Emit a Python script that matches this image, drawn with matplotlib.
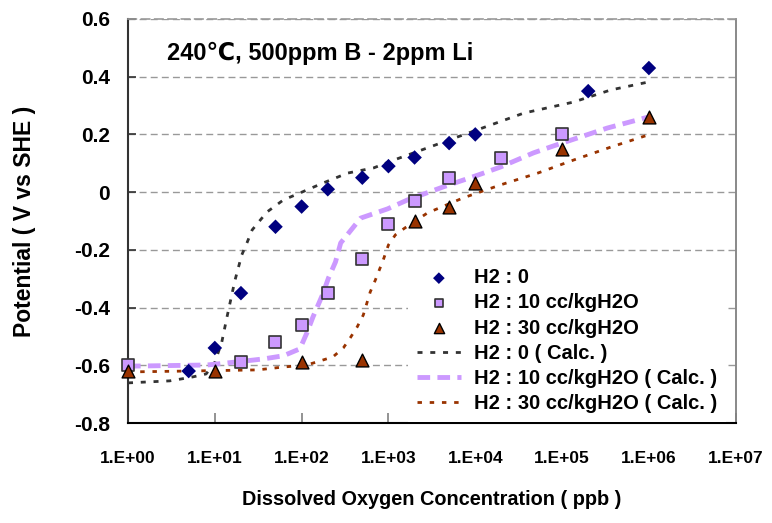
import numpy as np
import matplotlib
matplotlib.use("Agg")
import matplotlib.pyplot as plt

plt.rcParams['font.family'] = ['Liberation Sans', 'DejaVu Sans']
plt.rcParams['font.weight'] = 'bold'

# Measured data
x_h0 = [5, 10, 20, 50, 100, 200, 500, 1000, 2000, 5000, 1e4, 2e5, 1e6]
y_h0 = [-0.62, -0.54, -0.35, -0.12, -0.05, 0.01, 0.05, 0.09, 0.12, 0.17, 0.20, 0.35, 0.43]

x_h10 = [1, 20, 50, 100, 200, 500, 1000, 2000, 5000, 2e4, 1e5]
y_h10 = [-0.60, -0.59, -0.52, -0.46, -0.35, -0.23, -0.11, -0.03, 0.05, 0.12, 0.20]

x_h30 = [1, 10, 100, 500, 2000, 5000, 1e4, 1e5, 1e6]
y_h30 = [-0.62, -0.62, -0.59, -0.58, -0.10, -0.05, 0.03, 0.15, 0.26]

# Calculated curves (log10 of concentration, potential)
calc_h0_logx = [0.0, 0.48, 0.62, 0.75, 0.9, 1.0, 1.08, 1.14, 1.23, 1.27, 1.31, 1.37, 1.43,
                1.60, 1.79, 1.98, 2.25, 2.53, 2.83, 3.06, 3.29, 3.83, 4.56, 5.13, 5.56, 6.0]
calc_h0_y = [-0.661, -0.654, -0.647, -0.64, -0.63, -0.59, -0.52, -0.433, -0.308, -0.263, -0.218,
             -0.176, -0.131, -0.069, -0.027, -0.003, 0.032, 0.066, 0.084, 0.111, 0.136, 0.195,
             0.274, 0.312, 0.354, 0.382]

calc_h10_logx = [0.0, 0.25, 0.91, 1.14, 1.56, 1.79, 1.98, 2.06, 2.13, 2.24, 2.31, 2.39, 2.45,
                 2.68, 2.99, 3.22, 3.63, 4.03, 4.29, 4.67, 4.90, 5.52, 5.99]
calc_h10_y = [-0.603, -0.602, -0.599, -0.592, -0.578, -0.567, -0.543, -0.488, -0.433, -0.356,
              -0.297, -0.242, -0.176, -0.09, -0.058, -0.027, 0.018, 0.059, 0.087, 0.136, 0.16,
              0.222, 0.26]

calc_h30_logx = [0.0, 0.68, 1.49, 1.79, 2.06, 2.21, 2.36, 2.48, 2.56, 2.64, 2.71, 2.79, 2.85,
                 2.94, 3.00, 3.08, 3.19, 3.45, 3.86, 4.29, 4.72, 5.13, 5.56, 5.99]
calc_h30_y = [-0.623, -0.62, -0.616, -0.606, -0.599, -0.585, -0.571, -0.54, -0.505, -0.467,
              -0.426, -0.346, -0.304, -0.235, -0.183, -0.148, -0.124, -0.072, -0.02, 0.025,
              0.066, 0.111, 0.156, 0.198]

xtick_vals = [1e0, 1e1, 1e2, 1e3, 1e4, 1e5, 1e6, 1e7]
xtick_labels = ['1.E+00', '1.E+01', '1.E+02', '1.E+03', '1.E+04', '1.E+05', '1.E+06', '1.E+07']
ytick_vals = [-0.8, -0.6, -0.4, -0.2, 0, 0.2, 0.4, 0.6]
ytick_labels = ['-0.8', '-0.6', '-0.4', '-0.2', '0', '0.2', '0.4', '0.6']

fig = plt.figure(figsize=(7.72, 5.23), dpi=100)
ax = fig.add_axes([0.1658, 0.1912, 0.7872, 0.7725])

ax.set_xscale('log')
ax.set_xlim(1, 1e7)
ax.set_ylim(-0.8, 0.6)

# grid
for yv in ytick_vals[1:]:
    ax.axhline(yv, color='#999999', lw=1.0, ls=(0, (5, 3)), zorder=0)

ax.plot(10 ** np.array(calc_h0_logx), calc_h0_y, color='#333333', lw=2.0, ls=(0, (1.8, 2.8)),
        label='H2 : 0 ( Calc. )', zorder=2)
ax.plot(10 ** np.array(calc_h10_logx), calc_h10_y, color='#CC99FF', lw=3.5, ls=(0, (2.6, 1.5)),
        label='H2 : 10 cc/kgH2O ( Calc. )', zorder=2)
ax.plot(10 ** np.array(calc_h30_logx), calc_h30_y, color='#993300', lw=2.0, ls=(0, (1.6, 2.8)),
        label='H2 : 30 cc/kgH2O ( Calc. )', zorder=2)

ax.scatter(x_h0, y_h0, marker='D', s=55, color='#000080', edgecolors='none',
           label='H2 : 0', zorder=4, clip_on=False)
ax.scatter(x_h10, y_h10, marker='s', s=65, color='#CC99FF', edgecolors='#333333',
           linewidths=1.2, label='H2 : 10 cc/kgH2O', zorder=4, clip_on=False)
ax.scatter(x_h30, y_h30, marker='^', s=85, color='#993300', edgecolors='black',
           linewidths=1.0, label='H2 : 30 cc/kgH2O', zorder=5, clip_on=False)

handles, labels = ax.get_legend_handles_labels()
order = [3, 4, 5, 0, 1, 2]
leg = ax.legend([handles[i] for i in order], [labels[i] for i in order],
                loc='upper left', bbox_to_anchor=(0.461, 0.405), frameon=True,
                fancybox=False, edgecolor='none', facecolor='white', framealpha=1.0,
                prop={'weight': 'bold', 'size': 14.5}, handlelength=2.15, handletextpad=0.65,
                labelspacing=0.30, borderpad=0.45, scatterpoints=1, borderaxespad=0,
                markerscale=0.8)
leg.set_zorder(3)

ax.set_xticks(xtick_vals)
ax.set_xticklabels(xtick_labels)
ax.xaxis.set_minor_locator(matplotlib.ticker.NullLocator())
ax.set_yticks(ytick_vals)
ax.set_yticklabels(ytick_labels)
ax.tick_params(axis='x', direction='in', length=7, width=1.2, color='#808080', pad=20.5,
               labelsize=12.5)
ax.tick_params(axis='y', direction='in', length=6, width=1.2, color='#333333', pad=13,
               labelsize=15)
for lab in ax.get_xticklabels() + ax.get_yticklabels():
    lab.set_fontweight('bold')

ax.spines['left'].set_color('#333333')
ax.spines['left'].set_linewidth(1.5)
ax.spines['bottom'].set_color('black')
ax.spines['bottom'].set_linewidth(1.5)
ax.spines['right'].set_color('#808080')
ax.spines['right'].set_linewidth(1.3)
ax.spines['top'].set_color('#999999')
ax.spines['top'].set_linewidth(1.2)
ax.spines['top'].set_linestyle((0, (5, 3)))

ax.set_xlabel('Dissolved Oxygen Concentration ( ppb )', fontsize=14.3, fontweight='bold',
              labelpad=17)
ax.set_ylabel('Potential ( V vs SHE )', fontsize=16.5, fontweight='bold', labelpad=27)

ax.text(0.065, 0.915, '240\u2103, 500ppm B - 2ppm Li', transform=ax.transAxes,
        fontsize=17, fontweight='bold', ha='left', va='center',
        family=['Liberation Sans', 'DejaVu Sans'])

fig.savefig('out.png', dpi=100)
